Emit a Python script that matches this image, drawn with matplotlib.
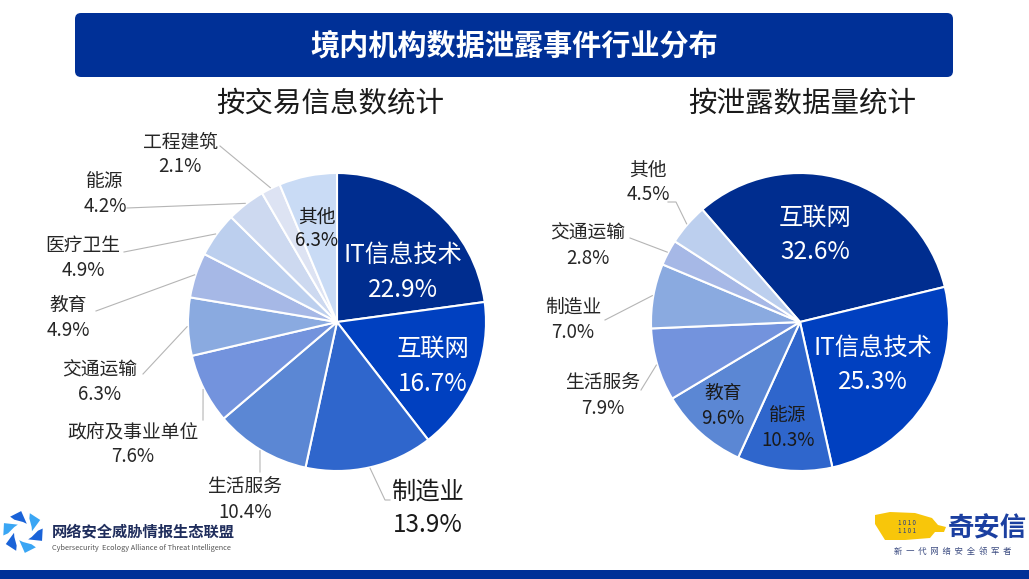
import matplotlib
matplotlib.use('Agg')
import matplotlib.pyplot as plt
from matplotlib.patches import FancyBboxPatch, Rectangle, Polygon
import numpy as np

# ---- data ----
left_labels = ['IT信息技术', '互联网', '制造业', '生活服务', '政府及事业单位', '交通运输',
               '教育', '医疗卫生', '能源', '工程建筑', '其他']
left_values = [22.9, 16.7, 13.9, 10.4, 7.6, 6.3, 4.9, 4.9, 4.2, 2.1, 6.3]

right_labels = ['互联网', 'IT信息技术', '能源', '教育', '生活服务', '制造业', '交通运输', '其他']
right_values = [32.6, 25.3, 10.3, 9.6, 7.9, 7.0, 2.8, 4.5]

title = '境内机构数据泄露事件行业分布'
left_title = '按交易信息数统计'
right_title = '按泄露数据量统计'

left_colors = ['#002d8f', '#0040c0', '#2f66cc', '#5b87d4', '#7393dd', '#8aaae0',
               '#a6b8e6', '#bccfee', '#cdd9f0', '#dde3f3', '#c9dbf5']
right_colors = ['#002d8f', '#0040c0', '#2f66cc', '#5b87d4', '#7393dd', '#8aaae0',
                '#a6b8e6', '#bccfee']

W, H = 1029, 579
plt.rcParams['font.family'] = ['Noto Sans CJK SC', 'DejaVu Sans']

fig = plt.figure(figsize=(W / 100, H / 100), dpi=100)
ax = fig.add_axes([0, 0, 1, 1])


def Y(y):
    # convert top-down pixel position to axes y
    return H - y


R = 149
LC = (337, Y(322))
RC = (800, Y(322))

ax.pie(left_values, colors=left_colors, startangle=90, counterclock=False,
       center=LC, radius=R, frame=True,
       wedgeprops=dict(edgecolor='white', linewidth=1.5))
ax.pie(right_values, colors=right_colors, startangle=131, counterclock=False,
       center=RC, radius=R, frame=True,
       wedgeprops=dict(edgecolor='white', linewidth=1.5))

ax.set_xlim(0, W)
ax.set_ylim(0, H)
ax.set_aspect('auto')
ax.axis('off')


def mid_edge(values, start, center, i, r=R):
    total = sum(values)
    a0 = start - 360 * sum(values[:i]) / total
    a1 = a0 - 360 * values[i] / total
    m = np.deg2rad((a0 + a1) / 2)
    return center[0] + r * np.cos(m), center[1] + r * np.sin(m)


def label(x, y, name, val, size=13.5, color='#262626', gap=25):
    ax.text(x, Y(y), name, ha='center', va='center', fontsize=size, color=color)
    ax.text(x, Y(y + gap), f'{val:.1f}%', ha='center', va='center',
            fontsize=size, color=color)


line_kw = dict(color='#b5b5b5', lw=0.8)

# left pie labels: (name x, name y, leader end)
left_pos = {
    'IT信息技术': (403, 255, None), '互联网': (433, 349, None), '其他': (317, 217, None),
    '工程建筑': (180, 142, (220, 146)), '能源': (105, 181, (127, 208)),
    '医疗卫生': (83, 245, (124, 252)), '教育': (68, 305, (96, 311)),
    '交通运输': (100, 370, (143, 374)), '政府及事业单位': (133, 432, (203, 420)),
    '生活服务': (245, 487, (260, 472)),
}
for i, (name, val) in enumerate(zip(left_labels, left_values)):
    if name == '制造业':
        ex, ey = mid_edge(left_values, 90, LC, i, R + 1)
        ax.plot([ex, 385, 390], [ey, Y(500), Y(500)], **line_kw)
        label(428, 492, name, val, size=17.5, color='#1a1a1a', gap=33)
        continue
    x, y, end = left_pos[name]
    if name in ('IT信息技术', '互联网'):
        label(x, y, name, val, size=17.5, color='white', gap=35)
    elif name == '其他':
        label(x, y, name, val, size=13.5, color='#1a1a1a', gap=24)
    else:
        ex, ey = mid_edge(left_values, 90, LC, i, R + 1)
        ax.plot([end[0], ex], [Y(end[1]), ey], **line_kw)
        label(x, y, name, val)

# right pie labels
right_pos = {
    '互联网': (815, 218, None), 'IT信息技术': (873, 348, None),
    '能源': (788, 415, None), '教育': (723, 393, None),
    '生活服务': (603, 383, (641, 390)), '制造业': (573, 307, (605, 320)),
    '交通运输': (588, 233, (630, 238)), '其他': (648, 170, (668, 202)),
}
for i, (name, val) in enumerate(zip(right_labels, right_values)):
    x, y, end = right_pos[name]
    if name in ('互联网', 'IT信息技术'):
        label(x, y, name, val, size=17.5, color='white', gap=34)
    elif name in ('能源', '教育'):
        label(x, y, name, val, size=13.5, color='#1a1a1a', gap=26)
    else:
        ex, ey = mid_edge(right_values, 131, RC, i, R + 1)
        if name == '其他':
            ax.plot([end[0], end[0] + 8, ex], [Y(end[1]), Y(end[1]), ey], **line_kw)
        else:
            ax.plot([end[0], ex], [Y(end[1]), ey], **line_kw)
        label(x, y, name, val)

# title banner
ax.add_patch(FancyBboxPatch((75 + 6, Y(77) + 6), 878 - 12, 64 - 12,
                            boxstyle='round,pad=6', fc='#003097', ec='none'))
ax.text(514, Y(45), title, ha='center', va='center', fontsize=21,
        fontweight='bold', color='white')
ax.text(330, Y(103), left_title, ha='center', va='center', fontsize=20.5, color='#1a1a1a')
ax.text(802, Y(103), right_title, ha='center', va='center', fontsize=20.5, color='#1a1a1a')

# bottom band
ax.add_patch(Rectangle((0, 0), W, 9, fc='#003097', ec='none'))

# left logo: hexagonal swirl
cx, cy = 23, Y(532)
for k in range(6):
    a = np.deg2rad(60 * k + 15)
    pts = []
    for ang, rr in [(-10, 9), (20, 21), (55, 20), (50, 15), (15, 10)]:
        t = a + np.deg2rad(ang)
        pts.append((cx + rr * np.cos(t), cy + rr * np.sin(t)))
    ax.add_patch(Polygon(pts, closed=True, fc='#1a63d8' if k % 2 else '#3aa6f4', ec='none'))
ax.text(52, Y(531), '网络安全威胁情报生态联盟', ha='left', va='center',
        fontsize=11, fontweight='bold', color='#1f2d5c')
ax.text(52, Y(548), 'Cybersecurity  Ecology Alliance of Threat Intelligence',
        ha='left', va='center', fontsize=5.3, color='#555555')

# right logo: yellow tiger + name
tiger = [(875, 515), (890, 512), (915, 513), (932, 518), (938, 525), (946, 527),
         (944, 532), (935, 532), (930, 538), (905, 540), (885, 540), (880, 532), (875, 524)]
ax.add_patch(Polygon([(x, Y(y)) for x, y in tiger], closed=True, fc='#f8c60a', ec='none'))
ax.text(907, Y(527), '1 0 1 0\n1 1 0 1', ha='center', va='center', fontsize=4.5,
        color='#1f3a8a', linespacing=0.9)
ax.text(987, Y(529), '奇安信', ha='center', va='center', fontsize=19,
        fontweight='bold', color='#1b3fa0')
ax.text(953, Y(551), '新  一  代  网  络  安  全  领  军  者', ha='center', va='center',
        fontsize=6, color='#3a4a80')

fig.savefig('out.png', dpi=100)
